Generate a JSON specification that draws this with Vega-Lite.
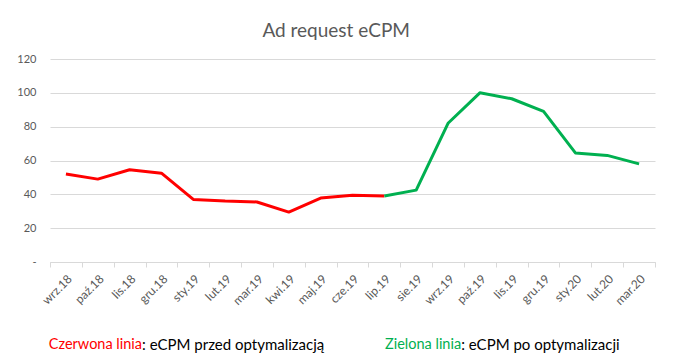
{
  "$schema": "https://vega.github.io/schema/vega-lite/v6.json",
  "padding": {"left": 16, "top": 22, "right": 5, "bottom": 0},
  "background": "white",
  "config": {
    "font": "Lato",
    "view": {"stroke": null},
    "concat": {"spacing": 28}
  },
  "datasets": {
    "ecpm": [
      {"miesiac": "wrz.18", "ecpm": 52, "okres": "przed"},
      {"miesiac": "paź.18", "ecpm": 49, "okres": "przed"},
      {"miesiac": "lis.18", "ecpm": 54.5, "okres": "przed"},
      {"miesiac": "gru.18", "ecpm": 52.5, "okres": "przed"},
      {"miesiac": "sty.19", "ecpm": 37, "okres": "przed"},
      {"miesiac": "lut.19", "ecpm": 36, "okres": "przed"},
      {"miesiac": "mar.19", "ecpm": 35.5, "okres": "przed"},
      {"miesiac": "kwi.19", "ecpm": 29.5, "okres": "przed"},
      {"miesiac": "maj.19", "ecpm": 37.8, "okres": "przed"},
      {"miesiac": "cze.19", "ecpm": 39.5, "okres": "przed"},
      {"miesiac": "lip.19", "ecpm": 39, "okres": "przed"},
      {"miesiac": "lip.19", "ecpm": 39, "okres": "po"},
      {"miesiac": "sie.19", "ecpm": 42.5, "okres": "po"},
      {"miesiac": "wrz.19", "ecpm": 82, "okres": "po"},
      {"miesiac": "paź.19", "ecpm": 100, "okres": "po"},
      {"miesiac": "lis.19", "ecpm": 96.5, "okres": "po"},
      {"miesiac": "gru.19", "ecpm": 89, "okres": "po"},
      {"miesiac": "sty.20", "ecpm": 64.5, "okres": "po"},
      {"miesiac": "lut.20", "ecpm": 63, "okres": "po"},
      {"miesiac": "mar.20", "ecpm": 58, "okres": "po"}
    ],
    "opis": [
      {"okres": "przed", "kolor": "Czerwona linia", "tekst": ": eCPM przed optymalizacją"},
      {"okres": "po", "kolor": "Zielona linia", "tekst": ": eCPM po optymalizacji"}
    ]
  },
  "vconcat": [
    {
      "width": 605,
      "height": 203,
      "title": {
        "text": "Ad request eCPM",
        "fontSize": 19,
        "fontWeight": "normal",
        "color": "#595959",
        "font": "Lato",
        "frame": "bounds",
        "anchor": "middle",
        "offset": 12
      },
      "data": {"name": "ecpm"},
      "mark": {"type": "line", "strokeWidth": 3, "strokeJoin": "round"},
      "encoding": {
        "x": {
          "field": "miesiac",
          "type": "nominal",
          "sort": ["wrz.18","paź.18","lis.18","gru.18","sty.19","lut.19","mar.19","kwi.19","maj.19","cze.19","lip.19","sie.19","wrz.19","paź.19","lis.19","gru.19","sty.20","lut.20","mar.20"],
          "scale": {"paddingInner": 0, "paddingOuter": 0},
          "axis": {
            "title": null,
            "labelAngle": -45,
            "labelFontSize": 12,
            "labelColor": "#595959",
            "labelPadding": 6,
            "tickBand": "extent",
            "tickColor": "#d9d9d9",
            "tickSize": 5,
            "domainColor": "#d9d9d9",
            "grid": false
          }
        },
        "y": {
          "field": "ecpm",
          "type": "quantitative",
          "scale": {"domain": [0, 120]},
          "axis": {
            "title": null,
            "values": [0, 20, 40, 60, 80, 100, 120],
            "labelExpr": "datum.value == 0 ? '-\u00a0\u00a0\u00a0' : datum.label",
            "labelFontSize": 11,
            "labelColor": "#595959",
            "labelPadding": 14,
            "ticks": false,
            "domain": false,
            "gridColor": "#d9d9d9"
          }
        },
        "color": {
          "field": "okres",
          "type": "nominal",
          "scale": {"domain": ["przed", "po"], "range": ["#ff0000", "#00b050"]},
          "legend": null
        }
      }
    },
    {
      "width": 605,
      "height": 20,
      "data": {"name": "opis"},
      "encoding": {
        "x": {
          "field": "okres",
          "type": "nominal",
          "sort": ["przed", "po"],
          "scale": {"type": "point", "padding": 0.448, "align": 0.322},
          "axis": null
        },
        "color": {
          "field": "okres",
          "type": "nominal",
          "scale": {"domain": ["przed", "po"], "range": ["#ff0000", "#00b050"]},
          "legend": null
        }
      },
      "layer": [
        {
          "mark": {"type": "text", "align": "right", "baseline": "middle", "fontSize": 14.5, "font": "Lato"},
          "encoding": {"text": {"field": "kolor"}}
        },
        {
          "mark": {"type": "text", "align": "left", "baseline": "middle", "fontSize": 15, "font": "Lato"},
          "encoding": {"text": {"field": "tekst"}, "color": {"value": "#000000"}}
        }
      ]
    }
  ]
}
